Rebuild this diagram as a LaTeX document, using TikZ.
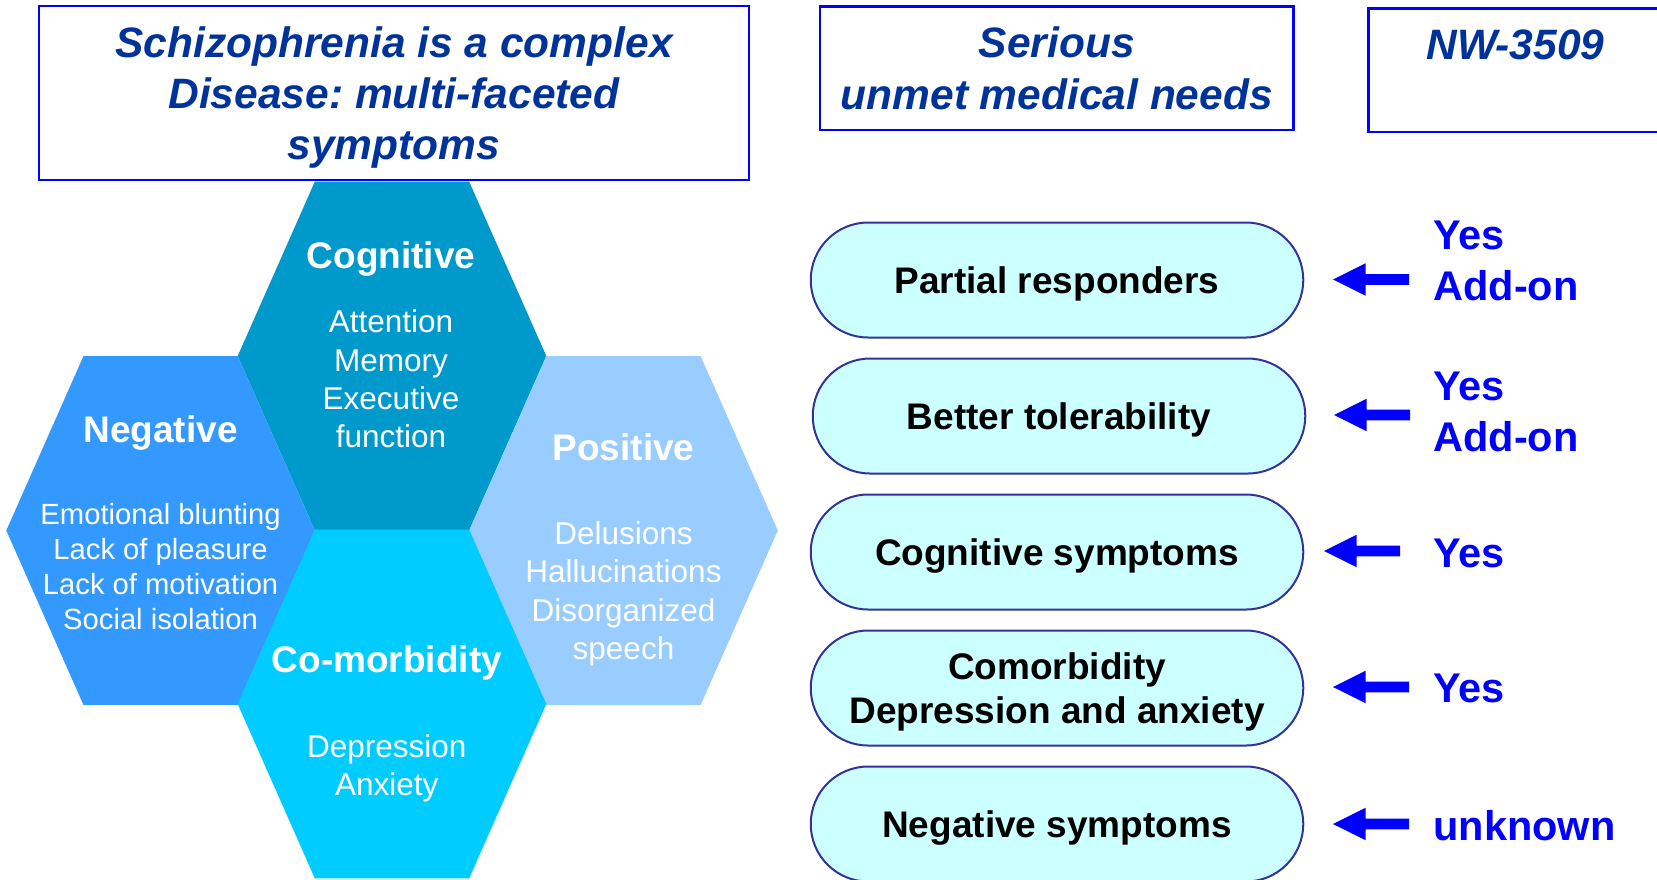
\documentclass[tikz,border=0pt]{standalone}
\usepackage{fontspec}
\setmainfont{Liberation Sans}
\frenchspacing

\definecolor{titleblue}{RGB}{0,51,153}
\definecolor{frameblue}{RGB}{0,0,255}
\definecolor{cogfill}{RGB}{0,153,204}
\definecolor{negfill}{RGB}{51,153,255}
\definecolor{posfill}{RGB}{153,204,255}
\definecolor{comfill}{RGB}{0,204,255}
\definecolor{pillfill}{RGB}{204,255,255}
\definecolor{pillline}{RGB}{51,51,153}
\definecolor{markblue}{RGB}{0,0,255}

% one flat-topped hexagon: centre x, centre y, colour
\newcommand\hexcell[3]{%
  \fill[#3] ({#1-154.3},#2) -- ({#1-77.15},{#2-174.4}) -- ({#1+77.15},{#2-174.4})
    -- ({#1+154.3},#2) -- ({#1+77.15},{#2+174.4}) -- ({#1-77.15},{#2+174.4}) -- cycle;}

\begin{document}
\begin{tikzpicture}[x=0.5pt,y=-0.5pt,
  headbox/.style={draw=frameblue, line width=1.2pt, inner sep=0pt, align=center,
    text depth=0pt, text=titleblue, font=\fontsize{21.25}{25.6}\selectfont\bfseries\itshape},
  headtext/.style={inner sep=0pt, align=center, text=titleblue,
    font=\fontsize{21.25}{25.6}\selectfont\bfseries\itshape},
  hextitle/.style={inner sep=0pt, text depth=0pt, text=white,
    font=\fontsize{18.5}{22}\selectfont\bfseries},
  hexbody/.style={inner sep=0pt, text depth=0pt, text=white, align=center,
    font=\fontsize{15.75}{19.15}\selectfont},
  pill/.style={draw=pillline, fill=pillfill, line width=1pt, rounded corners=28.7pt,
    minimum width=246.25pt, minimum height=57.5pt, inner sep=0pt, text depth=0pt,
    align=center, font=\fontsize{18.5}{22.2}\selectfont\bfseries},
  answer/.style={anchor=west, inner sep=0pt, text=markblue, align=left,
    font=\fontsize{20.75}{25.35}\selectfont\bfseries},
  leftarrow/.pic={\fill[markblue] (0,0) -- (32.5,-16.2) -- (32.5,-5.3) -- (76,-5.3)
    -- (76,5.3) -- (32.5,5.3) -- (32.5,16.2) -- cycle;}
]
\useasboundingbox (0,0) rectangle (1657,879);
\clip (0,0) rectangle (1657,879);

% ---- headings ----
\node[headbox, minimum width=355pt, minimum height=87pt] (disease) at (394,93)
  {Schizophrenia is a complex\\Disease: multi-faceted\\symptoms};
\node[headbox, minimum width=236.75pt, minimum height=61.85pt] (needs) at (1056.75,68.15)
  {Serious\\unmet medical needs};
\node[headbox, minimum width=148.25pt, minimum height=61.75pt] (drugbox) at (1516.75,70.25) {};
\node[headtext] (drug) at (1515.5,44.4) {NW-3509};

% ---- honeycomb of symptom domains ----
\hexcell{392}{356}{cogfill}
\hexcell{160.6}{530.5}{negfill}
\hexcell{623.5}{530.5}{posfill}
\hexcell{392}{704}{comfill}

\node[hextitle] (cogT) at (391,254.7) {Cognitive};
\node[hexbody] (cogB) at (391,379) {Attention\\Memory\\Executive\\function};
\node[hextitle] (negT) at (160.6,429) {Negative};
\node[hexbody, font=\fontsize{14.6}{17.6}\selectfont] (negB) at (160.6,566.4)
  {Emotional blunting\\Lack of pleasure\\Lack of motivation\\Social isolation};
\node[hextitle] (posT) at (623.5,447) {Positive};
\node[hexbody] (posB) at (623.5,590.7) {Delusions\\Hallucinations\\Disorganized\\speech};
\node[hextitle] (comT) at (386.8,659.4) {Co-morbidity};
\node[hexbody] (comB) at (386.8,765.1) {Depression\\Anxiety};

% ---- unmet needs ----
\node[pill] (n1) at (1057,280) {Partial responders};
\node[pill] (n2) at (1059,416) {Better tolerability};
\node[pill] (n3) at (1057,552) {Cognitive symptoms};
\node[pill] (n4) at (1057,688) {Comorbidity\\Depression and anxiety};
\node[pill] (n5) at (1057,824) {Negative symptoms};

% ---- answers and their pointers ----
\node[answer] (a1) at (1433,261) {Yes\\Add-on};
\node[answer] (a2) at (1433,412) {Yes\\Add-on};
\node[answer] (a3) at (1433,553.5) {Yes};
\node[answer] (a4) at (1433,688) {Yes};
\node[answer] (a5) at (1433,825.3) {unknown};

\coordinate (tip1) at (1333,279.5);
\coordinate (tip2) at (1334,415);
\coordinate (tip3) at (1324,551);
\coordinate (tip4) at (1333,687);
\coordinate (tip5) at (1333,824);
\foreach \t in {tip1,tip2,tip3,tip4,tip5} \pic at (\t) {leftarrow};
\end{tikzpicture}
\end{document}
